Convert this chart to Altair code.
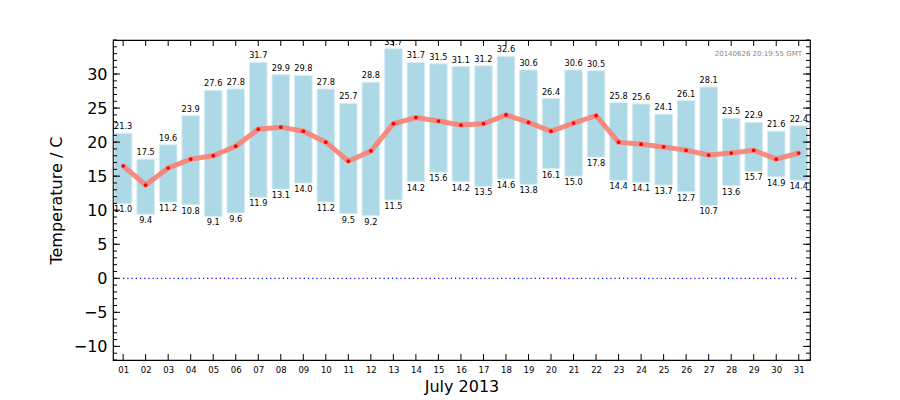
import altair as alt
import pandas as pd

days = list(range(1, 32))
tmax = [21.3, 17.5, 19.6, 23.9, 27.6, 27.8, 31.7, 29.9, 29.8, 27.8, 25.7, 28.8, 33.7, 31.7, 31.5, 31.1,
        31.2, 32.6, 30.6, 26.4, 30.6, 30.5, 25.8, 25.6, 24.1, 26.1, 28.1, 23.5, 22.9, 21.6, 22.4]
tmin = [11.0, 9.4, 11.2, 10.8, 9.1, 9.6, 11.9, 13.1, 14.0, 11.2, 9.5, 9.2, 11.5, 14.2, 15.6, 14.2,
        13.5, 14.6, 13.8, 16.1, 15.0, 17.8, 14.4, 14.1, 13.7, 12.7, 10.7, 13.6, 15.7, 14.9, 14.4]
tmean = [16.5, 13.7, 16.2, 17.5, 18.0, 19.4, 21.9, 22.2, 21.6, 20.0, 17.2, 18.7, 22.7, 23.6, 23.1, 22.5,
         22.7, 24.0, 22.9, 21.6, 22.8, 23.9, 20.0, 19.7, 19.3, 18.8, 18.1, 18.4, 18.8, 17.5, 18.4]
y_major = [-10, -5, 0, 5, 10, 15, 20, 25, 30]
y_minor = list(range(-12, 36))
stamp = ["20140626 20:19:55 GMT"]
x_title = "July 2013"
y_title = "Temperature / C"

W, H = 697, 320
FONT = "DejaVu Sans"

df = pd.DataFrame({"day": days, "tmax": tmax, "tmin": tmin, "tmean": tmean})
ymaj = pd.DataFrame({"v": y_major})
ymin = pd.DataFrame({"v": y_minor})
zero = pd.DataFrame({"a": [days[0]], "b": [days[-1]], "y": [0]})
st = pd.DataFrame({"t": stamp})

xs = alt.Scale(domain=[0.55, 31.5], nice=False, zero=False)
ys = alt.Scale(domain=[-12, 35], nice=False, zero=False)

axX = alt.Axis(
    values=days, labelExpr="datum.value < 10 ? '0' + datum.value : '' + datum.value",
    ticks=False, domain=False, grid=False, labelFontSize=8.5, labelPadding=5,
    labelColor="black", title=x_title, titleFontSize=16, titleFontWeight="normal",
    titleColor="black", titlePadding=5, labelFlush=False, labelOverlap=False)
axY = alt.Axis(
    values=y_major, ticks=False, domain=False, grid=False, labelFontSize=16,
    labelPadding=6, labelColor="black", title=y_title, titleFontSize=16,
    titleFontWeight="normal", titleColor="black", titlePadding=9, labelFlush=False,
    labelOverlap=False)


def X(f):
    return alt.X(f, scale=xs, axis=axX)


def Y(f):
    return alt.Y(f, scale=ys, axis=axY)


base = alt.Chart(df)

bars = base.transform_calculate(
    x0="datum.day - 0.39", x1="datum.day + 0.39"
).mark_bar(color="#add8e6", stroke="#d4edf4", strokeWidth=1).encode(
    x=X("x0:Q"), x2="x1:Q", y=Y("tmin:Q"), y2="tmax:Q",
)

zline = alt.Chart(zero).mark_rule(color="blue", strokeDash=[1.2, 3], strokeWidth=1.2).encode(
    x=X("a:Q"), x2="b:Q", y=Y("y:Q"))

line = base.mark_line(color="#fa8072", strokeWidth=5, opacity=0.9).encode(
    x=X("day:Q"), y=Y("tmean:Q"))
pts = base.mark_circle(color="red", size=14, opacity=1).encode(
    x=X("day:Q"), y=Y("tmean:Q"))

top_lbl = base.mark_text(baseline="bottom", dy=-2, fontSize=8.2, font=FONT, color="black", clip=True).encode(
    x=X("day:Q"), y=Y("tmax:Q"), text=alt.Text("tmax:Q", format=".1f"))
bot_lbl = base.mark_text(baseline="top", dy=3, fontSize=8.2, font=FONT, color="black").encode(
    x=X("day:Q"), y=Y("tmin:Q"), text=alt.Text("tmin:Q", format=".1f"))

stamp_txt = alt.Chart(st).mark_text(align="right", baseline="middle", fontSize=7, font=FONT, color="#888888").encode(
    x=alt.value(W - 8), y=alt.value(14), text="t:N")

ticks = []
for dfv, L in ((ymaj, 7), (ymin, 4)):
    ticks.append(alt.Chart(dfv).mark_rule(color="black", strokeWidth=1).encode(
        y=Y("v:Q"), x=alt.value(0), x2=alt.value(L)))
    ticks.append(alt.Chart(dfv).mark_rule(color="black", strokeWidth=1).encode(
        y=Y("v:Q"), x=alt.value(W), x2=alt.value(W - L)))
ticks.append(base.mark_rule(color="black", strokeWidth=1).encode(
    x=X("day:Q"), y=alt.value(0), y2=alt.value(6)))
ticks.append(base.mark_rule(color="black", strokeWidth=1).encode(
    x=X("day:Q"), y=alt.value(H), y2=alt.value(H - 6)))

chart = alt.layer(bars, zline, line, pts, top_lbl, bot_lbl, stamp_txt, *ticks).properties(
    width=W, height=H,
    autosize=alt.AutoSizeParams(type="none"),
    padding={"left": 113, "top": 40, "right": 90, "bottom": 40},
).configure(font=FONT).configure_view(stroke="black", strokeWidth=1.2)

chart.save("out.html", embed_options={"renderer": "svg", "actions": False})
